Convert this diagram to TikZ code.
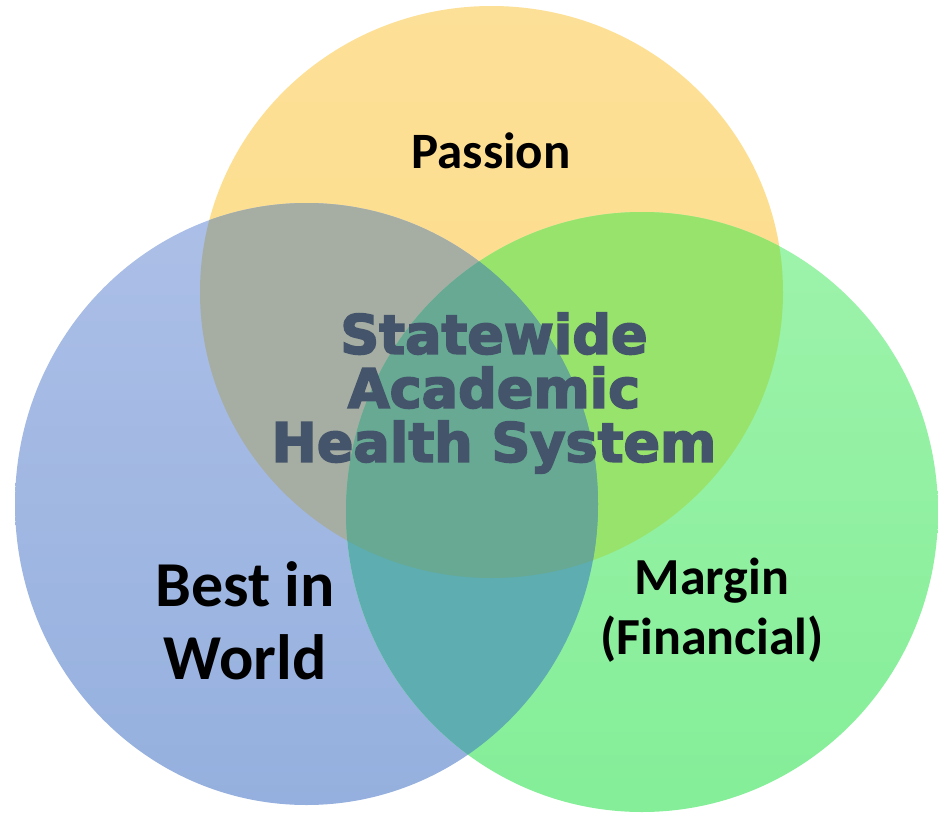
\documentclass[tikz,border=0pt]{standalone}
\usepackage{fontspec}
\setmainfont{Carlito}
\newfontfamily\heavyfont[FakeBold=3.2]{DejaVu Sans}
\usetikzlibrary{positioning}

\definecolor{passionTop}{HTML}{FDE097}
\definecolor{passionBot}{HTML}{FDDC88}
\definecolor{bestTop}{HTML}{ACBFE7}
\definecolor{bestBot}{HTML}{95B0DE}
\definecolor{marginTop}{HTML}{9EF3AB}
\definecolor{marginBot}{HTML}{84EE98}
\definecolor{passionBest}{HTML}{A6ADA3}
\definecolor{passionMargin}{HTML}{98E36C}
\definecolor{bestMargin}{HTML}{5EADB1}
\definecolor{allThree}{HTML}{67A993}
\definecolor{coreText}{HTML}{44546A}

\def\passionDisc{(491.5,292) ellipse (291.5 and 286)}
\def\bestDisc{(306.5,504) ellipse (291.5 and 301)}
\def\marginDisc{(642,512) ellipse (296 and 300)}

\begin{document}
\begin{tikzpicture}[x=1pt,y=-1pt]
	%%%%% START %%%%%
	
	\useasboundingbox (0,0) rectangle (938,814);
	\clip (0,0) rectangle (938,814);
	
	% the three circles
	\shade[top color=passionTop, bottom color=passionBot] \passionDisc;
	\shade[top color=bestTop, bottom color=bestBot] \bestDisc;
	\shade[top color=marginTop, bottom color=marginBot] \marginDisc;
	
	% overlaps
	\begin{scope}
		\clip \passionDisc;
		\fill[passionBest] \bestDisc;
		\fill[passionMargin] \marginDisc;
	\end{scope}
	\begin{scope}
		\clip \bestDisc;
		\fill[bestMargin] \marginDisc;
		\clip \marginDisc;
		\fill[allThree] \passionDisc;
	\end{scope}
	
	% labels
	\node[anchor=base, font=\bfseries\fontsize{51}{58}\selectfont] (passion) at (491, 168) {Passion};
	\node[align=center, font=\bfseries\fontsize{64}{73}\selectfont] (best) at (245, 621) {Best in\\World};
	\node[align=center, font=\bfseries\fontsize{52}{60}\selectfont] (margin) at (712, 610) {Margin\\(Financial)};
	\node[align=center, text=coreText, font=\heavyfont\bfseries\fontsize{54}{54}\selectfont] (core) at (494, 393) {Statewide\\Academic\\Health System};
	
	%%%%% END %%%%%
\end{tikzpicture}
\end{document}
